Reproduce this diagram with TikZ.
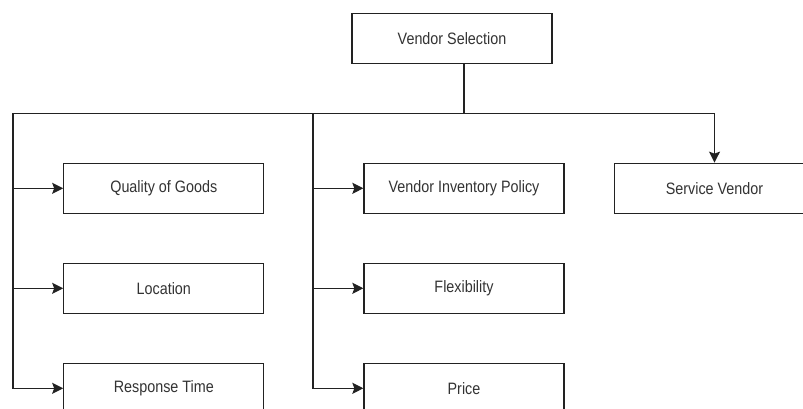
\documentclass[tikz,border=0pt]{standalone}
\usepackage{fontspec}
\setmainfont{Liberation Sans}[FakeStretch=0.87]
\usetikzlibrary{arrows.meta}
\definecolor{txt}{HTML}{333333}
\definecolor{ln}{HTML}{222222}
\tikzset{
  box/.style={draw=ln, line width=1.3pt, fill=white, minimum width=200pt, minimum height=50pt,
    inner sep=0pt, text=txt, font=\fontsize{16.5}{19}\selectfont},
  conn/.style={draw=ln, line width=1.3pt},
  arr/.style={conn, -{Stealth[length=11pt,width=11pt,inset=2pt]}}
}
\begin{document}
\begin{tikzpicture}[x=1pt,y=1pt]
\useasboundingbox (0,0) rectangle (803,408);
\clip (0,0) rectangle (803,408);
\node[box] (top) at (452,369.7) {Vendor Selection};
\node[box] (q)   at (163.8,219.7) {Quality of Goods};
\node[box] (loc) at (163.8,119.7) {Location};
\node[box] (rt)  at (163.8,19.7) {Response Time};
\node[box] (vip) at (464,219.7) {Vendor Inventory Policy};
\node[box] (fl)  at (464,119.7) {Flexibility};
\node[box] (pr)  at (464,19.7) {Price};
\node[box] (sv)  at (714.5,219.7) {Service Vendor};
\coordinate (stem) at (464,294.7);
\coordinate (lt) at (13,294.7);
\coordinate (mt) at (313,294.7);
\draw[conn] (top.south -| stem) -- (stem);
\draw[arr] (lt) -| (sv.north);
\draw[arr] (lt) |- (q.west);
\draw[arr] (lt) |- (loc.west);
\draw[arr] (lt) |- (rt.west);
\draw[arr] (mt) |- (vip.west);
\draw[arr] (mt) |- (fl.west);
\draw[arr] (mt) |- (pr.west);
\end{tikzpicture}
\end{document}
